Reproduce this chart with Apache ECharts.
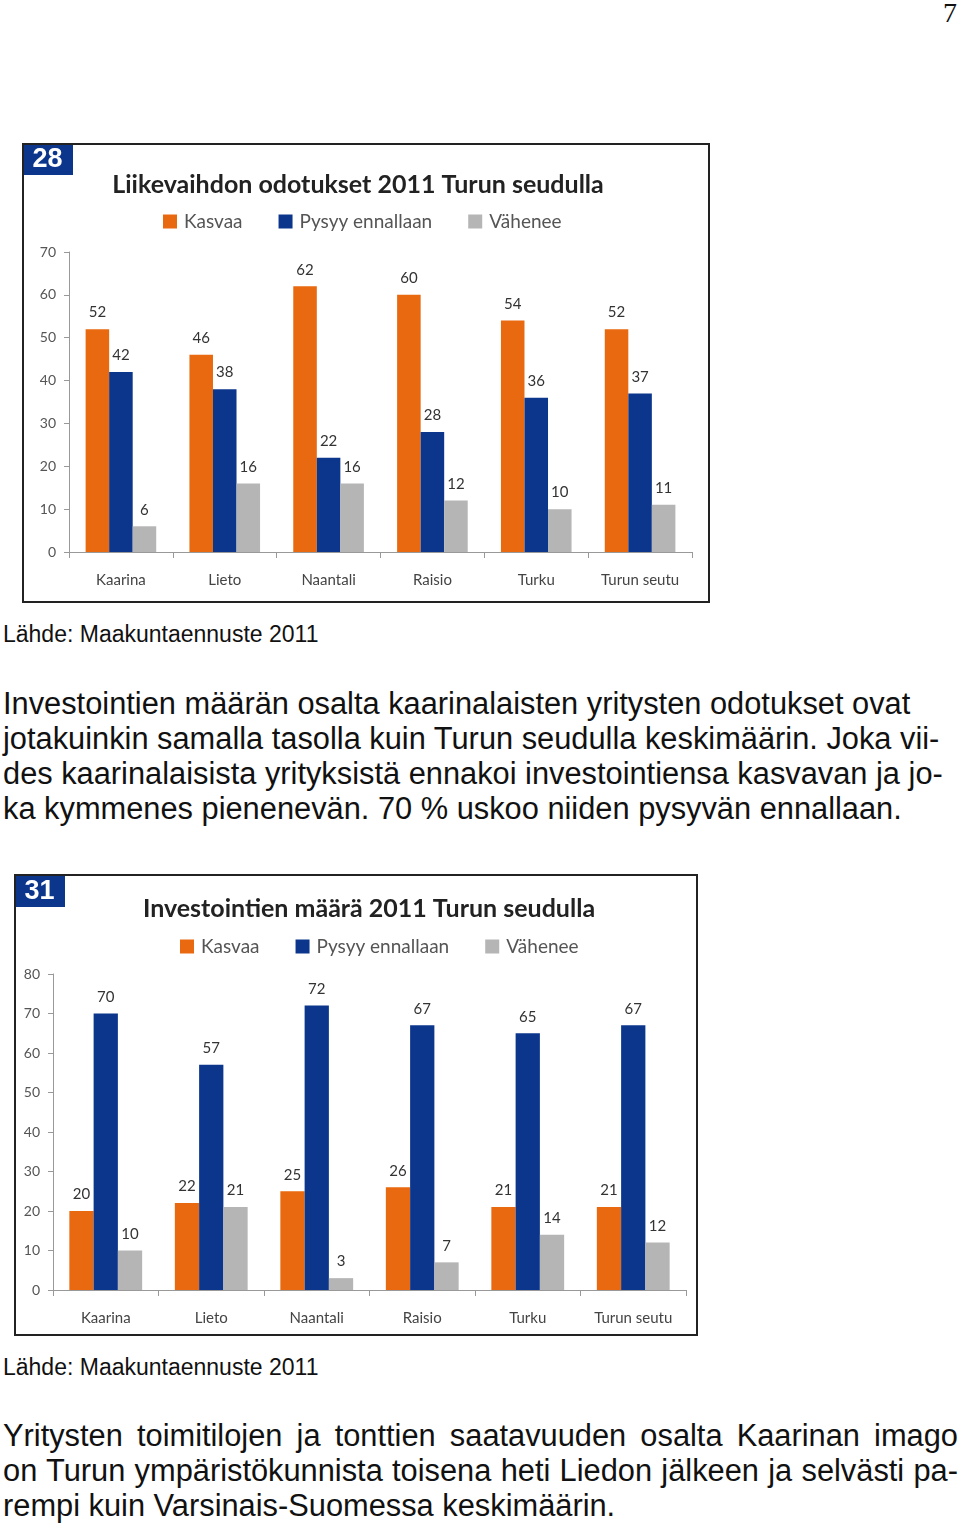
<!DOCTYPE html>
<html>
<head>
<meta charset="utf-8">
<script src="https://cdn.jsdelivr.net/npm/echarts@6/dist/echarts.min.js"></script>
<style>
  html, body { margin: 0; padding: 0; background: #fff; }
  body { width: 960px; height: 1524px; position: relative; overflow: hidden; }
  .t { position: absolute; white-space: nowrap; transform-origin: 0 0; color: #111;
       font-family: "Liberation Sans", Arial, sans-serif; }
  .chart { position: absolute; }
  .frame { position: absolute; border: 2px solid #222; box-sizing: border-box; pointer-events: none; }
</style>
</head>
<body>
<div class="t" id="pnum" style="left:943px; top:-1px; font-family:'Liberation Serif',serif; font-size:28px; line-height:28px;">7</div>

<div class="chart" id="c1" style="left:22px; top:143px; width:688px; height:460px;"></div>
<div class="frame" style="left:22px; top:143px; width:688px; height:460px;"></div>

<div id="src1"></div>
<div id="para1"></div>

<div class="chart" id="c2" style="left:14px; top:874px; width:684px; height:462px;"></div>
<div class="frame" style="left:14px; top:874px; width:684px; height:462px;"></div>

<div id="src2"></div>
<div id="para2"></div>

<script>
// ---------- data ----------
const categories = ['Kaarina', 'Lieto', 'Naantali', 'Raisio', 'Turku', 'Turun seutu'];
const seriesNames = ['Kasvaa', 'Pysyy ennallaan', 'Vähenee'];

const chart1Number = '28';
const chart1Title = 'Liikevaihdon odotukset 2011 Turun seudulla';
const turnoverKasvaa = [52, 46, 62, 60, 54, 52];
const turnoverPysyy = [42, 38, 22, 28, 36, 37];
const turnoverVahenee = [6, 16, 16, 12, 10, 11];
const chart1YMax = 70;

const chart2Number = '31';
const chart2Title = 'Investointien määrä 2011 Turun seudulla';
const investKasvaa = [20, 22, 25, 26, 21, 21];
const investPysyy = [70, 57, 72, 67, 65, 67];
const investVahenee = [10, 21, 3, 7, 14, 12];
const chart2YMax = 80;

const yInterval = 10;

const sourceText = 'Lähde: Maakuntaennuste 2011';
const para1Lines = [
  'Investointien määrän osalta kaarinalaisten yritysten odotukset ovat',
  'jotakuinkin samalla tasolla kuin Turun seudulla keskimäärin. Joka vii-',
  'des kaarinalaisista yrityksistä ennakoi investointiensa kasvavan ja jo-',
  'ka kymmenes pienenevän. 70 % uskoo niiden pysyvän ennallaan.'
];
const para2Lines = [
  'Yritysten toimitilojen ja tonttien saatavuuden osalta Kaarinan imago',
  'on Turun ympäristökunnista toisena heti Liedon jälkeen ja selvästi pa-',
  'rempi kuin Varsinais-Suomessa keskimäärin.'
];

// ---------- page text ----------
function addLine(parent, text, left, top, fontSize, lineH, justifyWidth) {
  const d = document.createElement('div');
  d.className = 't';
  d.textContent = text;
  d.style.left = left + 'px';
  d.style.top = top + 'px';
  d.style.fontSize = fontSize + 'px';
  d.style.lineHeight = lineH + 'px';
  if (justifyWidth) {
    d.style.width = justifyWidth + 'px';
    d.style.whiteSpace = 'normal';
    d.style.textAlign = 'justify';
    d.style.textAlignLast = 'justify';
  }
  parent.appendChild(d);
}
const PF = 30.8, PL = 35;
addLine(document.getElementById('src1'), sourceText, 3, 623, 23, 23);
para1Lines.forEach((l, i) => addLine(document.getElementById('para1'), l, 3, 686 + i * PL, PF, PL));
addLine(document.getElementById('src2'), sourceText, 3, 1356, 23, 23);
para2Lines.forEach((l, i) => addLine(document.getElementById('para2'), l, 3, 1418 + i * PL, PF, PL,
  i < para2Lines.length - 1 ? 955 : null));

// ---------- charts ----------
const colors = ['#E8690F', '#0B368C', '#B5B5B5'];
const FONT = 'Lato, "Open Sans", sans-serif';

function makeChart(el, cfg) {
  const chart = echarts.init(el, null, { renderer: 'canvas' });
  const vals = [cfg.k, cfg.p, cfg.v];
  const series = seriesNames.map((name, i) => ({
    name: name,
    type: 'bar',
    data: vals[i],
    barGap: '0%',
    barCategoryGap: cfg.catGap,
    itemStyle: { color: colors[i] },
    label: {
      show: true, position: 'top', distance: 9,
      color: '#333', fontSize: 15, fontFamily: FONT
    }
  }));
  chart.setOption({
    animation: false,
    backgroundColor: '#fff',
    grid: cfg.grid,
    legend: {
      data: seriesNames,
      left: cfg.legendLeft, top: cfg.legendTop,
      itemWidth: 14, itemHeight: 14, itemGap: 36,
      icon: 'rect',
      textStyle: { fontFamily: FONT, fontSize: 19, color: '#555', padding: [0, 0, 0, 2] }
    },
    graphic: [
      { type: 'rect', left: 0, top: 0, shape: { width: cfg.badgeW, height: cfg.badgeH }, style: { fill: '#0B368C' } },
      { type: 'text', x: cfg.badgeW / 2, y: cfg.badgeH / 2 + 1,
        style: { text: cfg.num, fill: '#fff', font: 'bold 27px "Liberation Sans Narrow", "Liberation Sans", sans-serif',
                 align: 'center', verticalAlign: 'middle' } },
      { type: 'text', x: cfg.titleX, y: cfg.titleY,
        style: { text: cfg.title, fill: '#222', font: 'bold 25px ' + FONT, align: 'center', verticalAlign: 'middle' } }
    ],
    xAxis: {
      type: 'category',
      data: categories,
      axisLine: { show: true, lineStyle: { color: '#999', width: 1 } },
      axisTick: { show: true, length: 6, lineStyle: { color: '#999' } },
      axisLabel: { color: '#444', fontSize: 15, fontFamily: FONT, margin: 21 }
    },
    yAxis: {
      type: 'value',
      min: 0, max: cfg.ymax, interval: yInterval,
      axisLine: { show: true, lineStyle: { color: '#999', width: 1 } },
      axisTick: { show: true, length: 5, lineStyle: { color: '#999' } },
      splitLine: { show: false },
      axisLabel: { color: '#555', fontSize: 14, fontFamily: FONT, margin: 13 }
    },
    series: series
  });
}

makeChart(document.getElementById('c1'), {
  k: turnoverKasvaa, p: turnoverPysyy, v: turnoverVahenee,
  ymax: chart1YMax, num: chart1Number, title: chart1Title,
  grid: { left: 47, right: 18, top: 109, bottom: 51 },
  catGap: '32%', legendLeft: 136, legendTop: 64,
  badgeW: 51, badgeH: 32, titleX: 336, titleY: 42
});
makeChart(document.getElementById('c2'), {
  k: investKasvaa, p: investPysyy, v: investVahenee,
  ymax: chart2YMax, num: chart2Number, title: chart2Title,
  grid: { left: 39, right: 12, top: 100, bottom: 46 },
  catGap: '31%', legendLeft: 161, legendTop: 58,
  badgeW: 51, badgeH: 33, titleX: 355, titleY: 35
});
</script>
</body>
</html>
